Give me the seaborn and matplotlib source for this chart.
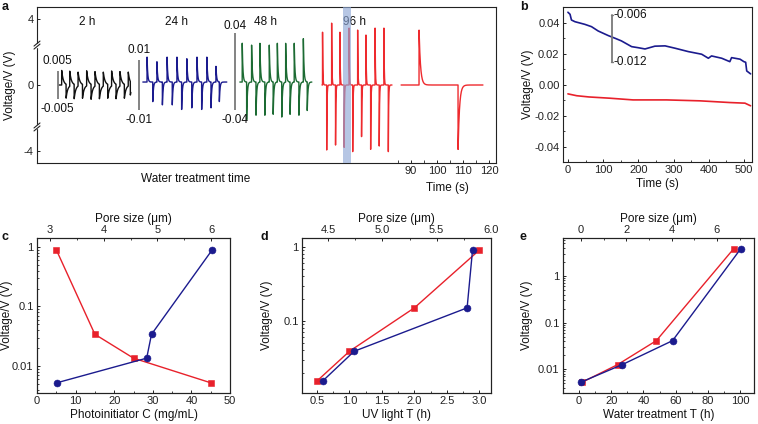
import numpy as np
import matplotlib
matplotlib.use('Agg')
import matplotlib.pyplot as plt
import seaborn as sns
from matplotlib.ticker import FixedLocator, FuncFormatter, MultipleLocator, LogLocator, NullFormatter
import matplotlib.transforms as mtrans

# ---------------- data ----------------
# panel a: spike trains (time on the panel axis in s, amplitude in V)
GROUP_LABELS = ['2 h', '24 h', '48 h', '96 h']
GROUP_LABEL_X = [-34.6, 0.0, 34.2, 68.1]

T2_UP = [-44.3, -41.2, -38.0, -34.7, -31.5, -28.3, -25.1, -21.9, -18.7]
T2_DN = [-42.6, -39.5, -36.3, -33.0, -29.8, -26.6, -23.4, -20.2, -17.9]
A2_UP = [0.0052, 0.0054, 0.0050, 0.0054, 0.0052, 0.0050, 0.0054, 0.0052, 0.0050]
A2_DN = [-0.0050, -0.0052, -0.0050, -0.0054, -0.0052, -0.0050, -0.0052, -0.0050, -0.0048]

T24_UP = [-11.5, -7.7, -3.8, 0.0, 3.8, 7.7, 11.5, 15.0]
T24_DN = [-9.3, -5.6, -1.8, 1.8, 5.7, 9.5, 13.1, 16.3]
A24_UP = [0.0108, 0.0088, 0.0108, 0.0108, 0.0101, 0.0108, 0.0108, 0.0068]
A24_DN = [-0.0085, -0.0099, -0.0099, -0.0119, -0.0112, -0.0119, -0.0112, -0.0085]

T48_UP = [25.1, 28.7, 31.9, 35.5, 38.6, 41.8, 45.1, 48.6]
T48_DN = [26.8, 30.4, 33.8, 37.0, 40.3, 43.5, 46.9, 50.1]
A48_UP = [0.0437, 0.0416, 0.0437, 0.0416, 0.0437, 0.0437, 0.0437, 0.0489]
A48_DN = [-0.0426, -0.0374, -0.0374, -0.0364, -0.0395, -0.0364, -0.0374, -0.0322]

T96_UP = [56.0, 59.5, 62.7, 66.2, 69.5, 72.7, 76.2, 79.6]
T96_DN = [57.6, 61.0, 64.3, 67.6, 71.0, 74.5, 77.8, 81.3]
A96_UP = [3.20, 3.75, 3.20, 3.45, 3.33, 3.03, 3.45, 3.45]
A96_DN = [-3.94, -3.64, -3.78, -4.04, -3.13, -3.90, -3.70, -4.04]

TZ_UP, AZ_UP = [93.1], [3.45]      # zoomed single cycle (Time (s) axis)
TZ_DN, AZ_DN = [108.1], [-4.05]

SCALE_LABELS = ['0.005', '0.01', '0.04']
SCALE_V = [0.005, 0.01, 0.04]

# panel b
B_T_BLUE = [0, 6, 10, 20, 48, 67, 86, 115, 134, 152, 181, 200, 219, 247, 276, 304,
            342, 380, 399, 408, 437, 460, 465, 489, 500, 505, 508, 519]
B_V_BLUE = [0.0469, 0.0456, 0.0419, 0.0408, 0.0391, 0.0376, 0.0348, 0.0318, 0.0301,
            0.0284, 0.0247, 0.0240, 0.0232, 0.0250, 0.0252, 0.0237, 0.0215, 0.0198,
            0.0172, 0.0187, 0.0172, 0.0150, 0.0176, 0.0166, 0.0150, 0.0146, 0.0090, 0.0071]
B_T_RED = [0, 25, 60, 119, 185, 280, 375, 460, 503, 519]
B_V_RED = [-0.0058, -0.0070, -0.0078, -0.0086, -0.0097, -0.0097, -0.0103, -0.0114,
           -0.0118, -0.0135]
B_SCALE_LABELS = ['-0.006', '-0.012']

# panel c
C_CONC = [5, 15, 25, 45]
C_RED_V = [0.9, 0.034, 0.0135, 0.0052]
C_PORE = [3.13, 4.80, 4.89, 6.02]
C_BLUE_V = [0.0052, 0.0135, 0.034, 0.9]

# panel d
D_UV = [0.5, 1.0, 2.0, 3.0]
D_RED_V = [0.0155, 0.039, 0.15, 0.9]
D_PORE = [4.45, 4.74, 5.78, 5.83]
D_BLUE_V = [0.0155, 0.039, 0.15, 0.9]

# panel e
E_WT = [2, 24, 48, 96]
E_RED_V = [0.0053, 0.0126, 0.041, 3.8]
E_PORE = [0.0, 1.82, 4.04, 7.05]
E_BLUE_V = [0.0053, 0.0126, 0.041, 3.8]

# ---------------- style ----------------
sns.set_theme(style='ticks')
plt.rcParams['font.family'] = ['Liberation Sans', 'DejaVu Sans']
plt.rcParams.update({
    'axes.unicode_minus': False,
    'xtick.direction': 'in', 'ytick.direction': 'in',
    'xtick.labelsize': 8, 'ytick.labelsize': 8, 'axes.labelsize': 8.5,
    'axes.linewidth': 0.8, 'axes.edgecolor': '#222222',
    'xtick.color': '#222222', 'ytick.color': '#222222',
    'xtick.major.size': 2.5, 'ytick.major.size': 2.5,
    'xtick.minor.size': 1.5, 'ytick.minor.size': 1.5,
    'xtick.major.width': 0.7, 'ytick.major.width': 0.7,
    'xtick.minor.width': 0.6, 'ytick.minor.width': 0.6,
    'xtick.major.pad': 2.5, 'ytick.major.pad': 2.5,
    'axes.labelpad': 2.0,
    'text.color': '#111111', 'axes.labelcolor': '#111111',
})

RED = '#E8212B'
RED_A = '#EE2A2E'
NAVY = '#1B1B8E'
GREEN = '#1C6B33'
BLACK = '#111111'
GRAY = '#7A7A7A'

W, H = 758, 424
fig = plt.figure(figsize=(7.58, 4.24), dpi=100)


def add_ax(l, t, r, b):
    return fig.add_axes([l / W, 1 - b / H, (r - l) / W, (b - t) / H])


axa = add_ax(37, 7, 496, 163)
axb = add_ax(563, 7, 752, 162)
axc = add_ax(37, 238, 230, 393)
axd = add_ax(302, 238, 491, 393)
axe = add_ax(563, 238, 754, 393)


def spike_trace(t0, t1, up_t, up_a, dn_t, dn_a, tau, gain, offset=0.0, step=0.02):
    t = np.arange(t0, t1, step)
    v = np.zeros_like(t)
    for ti, ai in zip(list(up_t) + list(dn_t), list(up_a) + list(dn_a)):
        m = t >= ti
        v[m] += ai * np.exp(-(t[m] - ti) / tau)
    return t, offset + v * gain


def line(ax, x, y, color, lw=1.0, **kw):
    sns.lineplot(x=np.asarray(x), y=np.asarray(y), ax=ax, color=color, linewidth=lw,
                 estimator=None, sort=False, **kw)

# ---------------- panel a ----------------
GAINS = [169.7, 151.5, 58.3, 1.0]
OFFS = [0.0, 0.18, 0.18, 0.0]
groups = [
    (-45.4, -17.7, T2_UP, A2_UP, T2_DN, A2_DN, 0.6, BLACK),
    (-13.1, 19.2, T24_UP, A24_UP, T24_DN, A24_DN, 0.25, NAVY),
    (24.2, 51.9, T48_UP, A48_UP, T48_DN, A48_DN, 0.25, GREEN),
    (55.8, 82.7, T96_UP, A96_UP, T96_DN, A96_DN, 0.12, RED_A),
]
for g, (t0, t1, ut, ua, dt, da, tau, col) in enumerate(groups):
    t, v = spike_trace(t0, t1, ut, ua, dt, da, tau, GAINS[g], OFFS[g])
    line(axa, t, v, col, lw=1.0)
t, v = spike_trace(86.2, 117.7, TZ_UP, AZ_UP, TZ_DN, AZ_DN, 0.55, 1.0)
line(axa, t, v, RED_A, lw=1.0)

axa.axvspan(63.8, 66.9, color='#8FA8D6', alpha=0.65, lw=0, zorder=5)

# scale bars
BAR_X = [-45.8, -14.4, 22.3]
BAR_C = [0.0, 0.0, 0.82]
LAB_PAD = [0.25, 0.25, 0.05]
for g in range(3):
    half = SCALE_V[g] * GAINS[g]
    top, bot = BAR_C[g] + half, BAR_C[g] - half
    axa.plot([BAR_X[g], BAR_X[g]], [bot, top], color=GRAY, lw=1.3, solid_capstyle='butt')
    axa.text(BAR_X[g], top + LAB_PAD[g], SCALE_LABELS[g], ha='center', va='bottom', fontsize=8.5)
    axa.text(BAR_X[g], bot - 0.25, '-' + SCALE_LABELS[g], ha='center', va='top', fontsize=8.5)

for lab, x in zip(GROUP_LABELS, GROUP_LABEL_X):
    axa.text(x, 3.82, lab, ha='center', va='center', fontsize=8.5)

axa.set_xlim(-53.8, 122.7)
axa.set_ylim(-4.73, 4.73)
axa.yaxis.set_major_locator(FixedLocator([-4, 0, 4]))
axa.xaxis.set_major_locator(FixedLocator([90, 100, 110, 120]))
axa.xaxis.set_minor_locator(FixedLocator([85, 95, 105, 115]))
axa.tick_params(axis='x', which='minor', length=2.5)
axa.set_ylabel('Voltage/V (V)')
axa.yaxis.set_label_coords(-0.045, 0.5)
tr = mtrans.blended_transform_factory(axa.transData, axa.transAxes)
axa.text(7.3, -0.103, 'Water treatment time', transform=tr, ha='center', va='center', fontsize=8.5)
axa.text(104.2, -0.16, 'Time (s)', transform=tr, ha='center', va='center', fontsize=8.5)

# axis-break marks on left spine
for yb in [0.756, 0.231]:
    dx, dy = 1 / 459, 1 / 156
    axa.add_patch(plt.Rectangle((-3 * dx, yb - 1.5 * dy), 6 * dx, 3 * dy, transform=axa.transAxes,
                                color='white', clip_on=False, zorder=6))
    for o in (-1.5, 1.5):
        axa.plot([-3 * dx, 3 * dx], [yb + (o - 2.5) * dy, yb + (o + 2.5) * dy], color='#222222',
                 lw=0.8, transform=axa.transAxes, clip_on=False, zorder=7)

# ---------------- panel b ----------------
line(axb, B_T_BLUE, B_V_BLUE, NAVY, lw=1.2)
line(axb, B_T_RED, B_V_RED, RED, lw=1.2)
axb.plot([125, 125], [0.0148, 0.0452], color=GRAY, lw=1.3)
for yv in (0.0148, 0.0452):
    axb.plot([121, 129], [yv, yv], color=GRAY, lw=1.0)
axb.text(129, 0.0452, B_SCALE_LABELS[0], ha='left', va='center', fontsize=8.5)
axb.text(129, 0.0148, B_SCALE_LABELS[1], ha='left', va='center', fontsize=8.5)
axb.set_xlim(-14, 523)
axb.set_ylim(-0.0498, 0.0503)
axb.xaxis.set_major_locator(MultipleLocator(100))
axb.xaxis.set_minor_locator(MultipleLocator(50))
axb.yaxis.set_major_locator(MultipleLocator(0.02))
axb.yaxis.set_minor_locator(MultipleLocator(0.01))
axb.yaxis.set_major_formatter(FuncFormatter(lambda v, p: f'{v:.2f}'))
axb.set_xlabel('Time (s)')
axb.set_ylabel('Voltage/V (V)')
axb.yaxis.set_label_coords(-0.155, 0.5)

# ---------------- panels c, d, e ----------------
logfmt = FuncFormatter(lambda v, p: f'{v:g}')


def dual(ax, xb, yb, xt, yt, xlim, tlim, ylim, yticks, xmaj, xmin, tmaj, tmin, xlabel,
         bfmt, tfmt, lab_x):
    ax.set_yscale('log')
    top = ax.twiny()
    line(ax, xb, yb, RED, lw=1.0, marker='s', markersize=5, markeredgecolor=RED,
         markeredgewidth=0.4)
    line(top, xt, yt, NAVY, lw=1.0, marker='o', markersize=5, markeredgecolor=NAVY,
         markeredgewidth=0.4)
    ax.set_xlim(*xlim)
    top.set_xlim(*tlim)
    ax.set_ylim(*ylim)
    ax.yaxis.set_major_locator(FixedLocator(yticks))
    ax.yaxis.set_major_formatter(logfmt)
    ax.yaxis.set_minor_locator(LogLocator(subs=np.arange(2, 10)))
    ax.yaxis.set_minor_formatter(NullFormatter())
    ax.xaxis.set_major_locator(MultipleLocator(xmaj))
    ax.xaxis.set_minor_locator(MultipleLocator(xmin))
    top.xaxis.set_major_locator(MultipleLocator(tmaj))
    top.xaxis.set_minor_locator(MultipleLocator(tmin))
    top.xaxis.set_major_formatter(FuncFormatter(tfmt))
    ax.xaxis.set_major_formatter(FuncFormatter(bfmt))
    ax.set_xlabel(xlabel)
    ax.set_ylabel('Voltage/V (V)')
    ax.yaxis.set_label_coords(lab_x, 0.5)
    top.set_xlabel('Pore size (μm)')
    top.set_ylabel('')
    return top


g_fmt = lambda v, p: f'{v:g}'
f1_fmt = lambda v, p: f'{v:.1f}'
dual(axc, C_CONC, C_RED_V, C_PORE, C_BLUE_V, (0, 50), (2.76, 6.35), (0.0035, 1.42),
     [0.01, 0.1, 1], 10, 5, 1, 0.5, 'Photoinitiator C (mg/mL)', g_fmt, g_fmt, -0.125)
dual(axd, D_UV, D_RED_V, D_PORE, D_BLUE_V, (0.27, 3.18), (4.26, 6.0), (0.0107, 1.31),
     [0.1, 1], 0.5, 0.25, 0.5, 0.25, 'UV light T (h)', f1_fmt, f1_fmt, -0.153)
dual(axe, E_WT, E_RED_V, E_PORE, E_BLUE_V, (-10, 108.7), (-0.8, 7.64), (0.0031, 6.5),
     [0.01, 0.1, 1], 20, 10, 2, 1, 'Water treatment T (h)', g_fmt, g_fmt, -0.157)

# panel letters
for s, (x, y) in zip('abcde', [(5, 7), (524, 7), (5, 237), (264, 237), (523, 237)]):
    fig.text(x / W, 1 - y / H, s, fontsize=9, fontweight='bold', ha='center', va='center')

fig.savefig('out.png', dpi=100)
